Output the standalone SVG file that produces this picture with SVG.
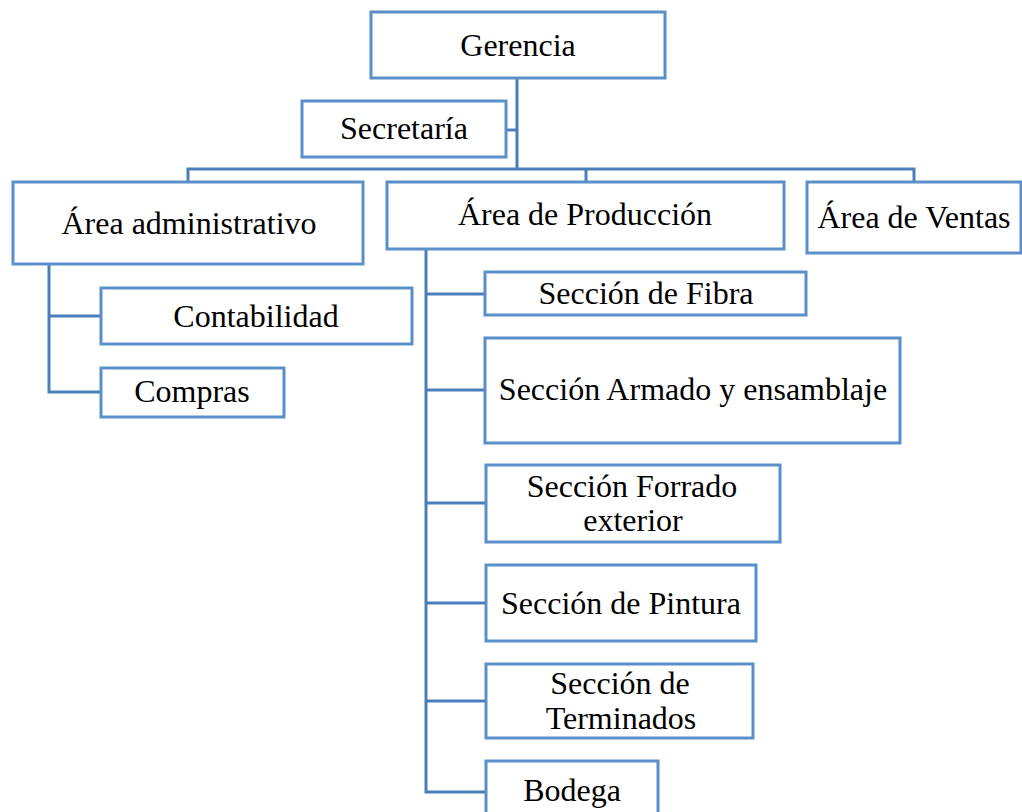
<svg xmlns="http://www.w3.org/2000/svg" width="1022" height="812" viewBox="0 0 1022 812">
<style>
.box{fill:#ffffff;stroke:#5b8fc9;stroke-width:3}
.ln{fill:none;stroke:#4a7ebb;stroke-width:3}
text{font-family:"Liberation Serif","Times New Roman",serif;font-size:32px;fill:#000;text-anchor:middle}
</style>
<rect width="1022" height="812" fill="#ffffff"/>
<g id="connectors">
<path class="ln" d="M517 78V169M506 130H517M188 182V169H914V182M586 169V182"/>
<path class="ln" d="M49 264V392H101M49 316H101"/>
<path class="ln" d="M426 249V792H486M426 294H485M426 390H485M426 503H486M426 603H486M426 701H486"/>
</g>
<g id="gerencia"><rect class="box" x="371" y="12" width="294" height="66"/><text x="518" y="56">Gerencia</text></g>
<g id="secretaria"><rect class="box" x="302" y="101" width="204" height="56"/><text x="404" y="139">Secretaría</text></g>
<g id="admin"><rect class="box" x="13" y="182" width="350" height="82"/><text x="189" y="234">Área administrativo</text></g>
<g id="produccion"><rect class="box" x="387" y="182" width="397" height="67"/><text x="585" y="225">Área de Producción</text></g>
<g id="ventas"><rect class="box" x="807" y="182" width="214" height="71"/><text x="914" y="228">Área de Ventas</text></g>
<g id="contabilidad"><rect class="box" x="101" y="288" width="311" height="56"/><text x="256" y="327">Contabilidad</text></g>
<g id="compras"><rect class="box" x="101" y="368" width="183" height="49"/><text x="192" y="402">Compras</text></g>
<g id="fibra"><rect class="box" x="485" y="272" width="321" height="43"/><text x="646" y="304">Sección de Fibra</text></g>
<g id="armado"><rect class="box" x="485" y="338" width="415" height="105"/><text x="693" y="400">Sección Armado y ensamblaje</text></g>
<g id="forrado"><rect class="box" x="486" y="465" width="294" height="77"/><text x="632" y="497">Sección Forrado</text><text x="633" y="531">exterior</text></g>
<g id="pintura"><rect class="box" x="486" y="565" width="270" height="76"/><text x="621" y="614">Sección de Pintura</text></g>
<g id="terminados"><rect class="box" x="486" y="664" width="267" height="74"/><text x="620" y="694">Sección de</text><text x="621" y="729">Terminados</text></g>
<g id="bodega"><rect class="box" x="486" y="761" width="172" height="60"/><text x="572" y="801">Bodega</text></g>
</svg>
